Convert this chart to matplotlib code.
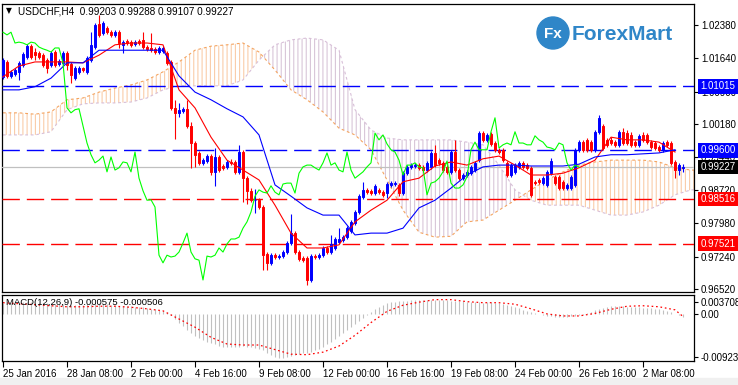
import numpy as np
import matplotlib
matplotlib.use('Agg')
import matplotlib.pyplot as plt
from matplotlib.patches import Ellipse, Rectangle

plt.rcParams['font.family'] = ['Liberation Sans', 'DejaVu Sans']
plt.rcParams['hatch.linewidth'] = 0.8
plt.rcParams['lines.scale_dashes'] = False

# USDCHF H4 candles, one per bar (25 Jan 16:00 .. 4 Mar 00:00)
opens = [1.0123, 1.0156, 1.0125, 1.0129, 1.0134, 1.0149, 1.0167, 1.0191, 1.0178, 1.0176,
         1.0171, 1.0160, 1.0149, 1.0178, 1.0151, 1.0154, 1.0176, 1.0151, 1.0120, 1.0134,
         1.0143, 1.0134, 1.0160, 1.0189, 1.0240, 1.0220, 1.0231, 1.0222, 1.0216, 1.0222,
         1.0194, 1.0203, 1.0200, 1.0196, 1.0203, 1.0205, 1.0189, 1.0187, 1.0185, 1.0178,
         1.0180, 1.0176, 1.0156, 1.0054, 1.0043, 1.0047, 1.0052, 1.0014, 0.9976, 0.9954,
         0.9932, 0.9936, 0.9947, 0.9912, 0.9945, 0.9925, 0.9923, 0.9934, 0.9934, 0.9912,
         0.9956, 0.9898, 0.9870, 0.9849, 0.9849, 0.9834, 0.9730, 0.9710, 0.9727, 0.9723,
         0.9725, 0.9734, 0.9754, 0.9776, 0.9734, 0.9721, 0.9721, 0.9672, 0.9725, 0.9723,
         0.9727, 0.9743, 0.9734, 0.9743, 0.9756, 0.9761, 0.9767, 0.9781, 0.9798, 0.9823,
         0.9856, 0.9872, 0.9870, 0.9865, 0.9872, 0.9867, 0.9865, 0.9883, 0.9885, 0.9883,
         0.9865, 0.9909, 0.9923, 0.9925, 0.9927, 0.9923, 0.9916, 0.9923, 0.9954, 0.9938,
         0.9932, 0.9923, 0.9912, 0.9956, 0.9916, 0.9898, 0.9905, 0.9909, 0.9916, 0.9938,
         0.9998, 0.9983, 0.9996, 0.9976, 0.9961, 0.9961, 0.9932, 0.9905, 0.9912, 0.9923,
         0.9932, 0.9927, 0.9921, 0.9890, 0.9894, 0.9887, 0.9883, 0.9909, 0.9901, 0.9901,
         0.9890, 0.9876, 0.9876, 0.9883, 0.9961, 0.9978, 0.9983, 0.9978, 0.9961, 1.0001,
         1.0014, 0.9983, 0.9983, 0.9978, 0.9972, 1.0001, 0.9998, 0.9994, 0.9978, 0.9972,
         0.9994, 0.9994, 0.9978, 0.9976, 0.9967, 0.9961, 0.9978, 0.9976, 0.9934, 0.9916,
         0.99203]
closes = [1.0160, 1.0125, 1.0134, 1.0138, 1.0154, 1.0174, 1.0191, 1.0167, 1.0171, 1.0167,
          1.0149, 1.0143, 1.0176, 1.0149, 1.0158, 1.0176, 1.0149, 1.0127, 1.0143, 1.0143,
          1.0138, 1.0165, 1.0194, 1.0238, 1.0216, 1.0242, 1.0222, 1.0216, 1.0222, 1.0198,
          1.0200, 1.0198, 1.0194, 1.0200, 1.0198, 1.0189, 1.0185, 1.0182, 1.0178, 1.0187,
          1.0187, 1.0154, 1.0054, 1.0043, 1.0050, 1.0052, 1.0014, 0.9976, 0.9950, 0.9932,
          0.9938, 0.9947, 0.9912, 0.9945, 0.9916, 0.9921, 0.9934, 0.9932, 0.9912, 0.9956,
          0.9898, 0.9870, 0.9849, 0.9850, 0.9834, 0.9727, 0.9710, 0.9727, 0.9723, 0.9725,
          0.9734, 0.9754, 0.9776, 0.9734, 0.9719, 0.9716, 0.9672, 0.9725, 0.9723, 0.9727,
          0.9743, 0.9734, 0.9752, 0.9763, 0.9763, 0.9767, 0.9787, 0.9801, 0.9823, 0.9858,
          0.9872, 0.9867, 0.9865, 0.9881, 0.9867, 0.9861, 0.9885, 0.9887, 0.9887, 0.9865,
          0.9909, 0.9923, 0.9927, 0.9927, 0.9921, 0.9916, 0.9932, 0.9954, 0.9927, 0.9932,
          0.9916, 0.9912, 0.9956, 0.9916, 0.9898, 0.9905, 0.9912, 0.9923, 0.9932, 0.9998,
          0.9983, 0.9994, 0.9974, 0.9961, 0.9956, 0.9938, 0.9905, 0.9927, 0.9927, 0.9932,
          0.9923, 0.9921, 0.9861, 0.9887, 0.9890, 0.9898, 0.9912, 0.9936, 0.9887, 0.9876,
          0.9876, 0.9883, 0.9901, 0.9961, 0.9978, 0.9961, 0.9961, 0.9961, 1.0001, 1.0032,
          0.9965, 0.9972, 0.9976, 0.9972, 1.0001, 0.9976, 0.9976, 0.9972, 0.9972, 0.9992,
          0.9983, 0.9978, 0.9967, 0.9965, 0.9961, 0.9976, 0.9972, 0.9932, 0.9916, 0.9927,
          0.99227]
highs = [1.0165, 1.0160, 1.0138, 1.0143, 1.0158, 1.0178, 1.0196, 1.0196, 1.0187, 1.0180,
         1.0176, 1.0165, 1.0180, 1.0182, 1.0163, 1.0180, 1.0180, 1.0156, 1.0147, 1.0147,
         1.0145, 1.0169, 1.0222, 1.0242, 1.0260, 1.0247, 1.0236, 1.0227, 1.0227, 1.0227,
         1.0205, 1.0207, 1.0205, 1.0205, 1.0207, 1.0222, 1.0194, 1.0220, 1.0189, 1.0191,
         1.0191, 1.0180, 1.0160, 1.0072, 1.0065, 1.0056, 1.0072, 1.0023, 0.9980, 0.9958,
         0.9943, 0.9952, 0.9952, 0.9965, 0.9950, 0.9929, 0.9938, 0.9941, 0.9938, 0.9972,
         0.9961, 0.9903, 0.9876, 0.9874, 0.9854, 0.9838, 0.9734, 0.9732, 0.9732, 0.9730,
         0.9739, 0.9758, 0.9818, 0.9781, 0.9739, 0.9725, 0.9725, 0.9730, 0.9730, 0.9732,
         0.9747, 0.9747, 0.9772, 0.9767, 0.9787, 0.9772, 0.9792, 0.9805, 0.9827, 0.9863,
         0.9890, 0.9876, 0.9874, 0.9885, 0.9876, 0.9872, 0.9890, 0.9892, 0.9892, 0.9887,
         0.9914, 0.9927, 0.9932, 0.9932, 0.9932, 0.9927, 0.9936, 0.9958, 0.9972, 0.9943,
         0.9936, 0.9927, 0.9961, 0.9983, 0.9921, 0.9909, 0.9916, 0.9927, 0.9936, 1.0003,
         1.0003, 0.9998, 1.0001, 0.9980, 0.9965, 0.9965, 0.9936, 0.9932, 0.9932, 0.9936,
         0.9936, 0.9932, 0.9925, 0.9894, 0.9898, 0.9903, 0.9916, 0.9943, 0.9905, 0.9905,
         0.9894, 0.9887, 0.9905, 0.9965, 0.9983, 0.9983, 0.9987, 0.9983, 1.0005, 1.0038,
         1.0018, 0.9987, 0.9989, 0.9983, 1.0005, 1.0009, 1.0005, 1.0001, 0.9983, 0.9996,
         1.0001, 0.9998, 0.9983, 0.9980, 0.9972, 0.9980, 0.9983, 0.9980, 0.9938, 0.9932,
         0.99288]
lows = [1.0118, 1.0120, 1.0120, 1.0125, 1.0116, 1.0145, 1.0163, 1.0163, 1.0160, 1.0163,
        1.0145, 1.0131, 1.0145, 1.0145, 1.0147, 1.0149, 1.0138, 1.0109, 1.0116, 1.0129,
        1.0134, 1.0129, 1.0156, 1.0185, 1.0211, 1.0216, 1.0218, 1.0211, 1.0211, 1.0187,
        1.0176, 1.0194, 1.0189, 1.0191, 1.0194, 1.0185, 1.0180, 1.0178, 1.0174, 1.0174,
        1.0176, 1.0149, 1.0050, 0.9985, 1.0034, 1.0043, 1.0009, 0.9921, 0.9923, 0.9927,
        0.9927, 0.9932, 0.9905, 0.9881, 0.9912, 0.9916, 0.9918, 0.9927, 0.9907, 0.9907,
        0.9845, 0.9841, 0.9845, 0.9821, 0.9829, 0.9694, 0.9694, 0.9705, 0.9719, 0.9719,
        0.9721, 0.9730, 0.9750, 0.9730, 0.9714, 0.9712, 0.9661, 0.9667, 0.9719, 0.9719,
        0.9723, 0.9730, 0.9730, 0.9739, 0.9752, 0.9756, 0.9763, 0.9776, 0.9794, 0.9818,
        0.9852, 0.9863, 0.9861, 0.9861, 0.9863, 0.9856, 0.9854, 0.9878, 0.9881, 0.9858,
        0.9861, 0.9905, 0.9918, 0.9921, 0.9916, 0.9912, 0.9912, 0.9918, 0.9923, 0.9927,
        0.9912, 0.9907, 0.9907, 0.9912, 0.9894, 0.9894, 0.9901, 0.9905, 0.9912, 0.9934,
        0.9978, 0.9978, 0.9969, 0.9956, 0.9952, 0.9934, 0.9901, 0.9901, 0.9907, 0.9918,
        0.9918, 0.9916, 0.9856, 0.9883, 0.9885, 0.9883, 0.9878, 0.9905, 0.9883, 0.9872,
        0.9872, 0.9872, 0.9872, 0.9878, 0.9956, 0.9956, 0.9956, 0.9956, 0.9956, 0.9996,
        0.9961, 0.9967, 0.9972, 0.9967, 0.9967, 0.9972, 0.9972, 0.9967, 0.9967, 0.9967,
        0.9978, 0.9974, 0.9963, 0.9961, 0.9956, 0.9956, 0.9967, 0.9927, 0.9898, 0.9905,
        0.99107]

# Ichimoku lines, read every 4th bar
tenkan = [1.0123, 1.0147, 1.0156, 1.0156, 1.0156, 1.0154, 1.0171, 1.0194, 1.0198, 1.0198,
          1.0194, 1.0094, 1.0054, 0.9989, 0.9938, 0.9916, 0.9894, 0.9838, 0.9776, 0.9743,
          0.9743, 0.9750, 0.9801, 0.9827, 0.9849, 0.9890, 0.9898, 0.9925, 0.9934, 0.9927,
          0.9941, 0.9947, 0.9927, 0.9905, 0.9905, 0.9909, 0.9921, 0.9938, 0.9989, 0.9983,
          0.9983, 0.9978, 0.9956]
kijun = [1.0094, 1.0094, 1.0101, 1.0120, 1.0154, 1.0154, 1.0182, 1.0182, 1.0182, 1.0182,
         1.0182, 1.0125, 1.0089, 1.0072, 1.0052, 1.0034, 0.9994, 0.9883, 0.9858, 0.9832,
         0.9816, 0.9816, 0.9772, 0.9776, 0.9776, 0.9787, 0.9832, 0.9849, 0.9876, 0.9905,
         0.9923, 0.9927, 0.9927, 0.9925, 0.9925, 0.9925, 0.9929, 0.9945, 0.9950, 0.9950,
         0.9952, 0.9954, 0.9961]
span_a = [1.0043, 1.0043, 1.0040, 1.0045, 1.0072, 1.0076, 1.0089, 1.0098, 1.0105, 1.0116,
          1.0134, 1.0156, 1.0182, 1.0191, 1.0194, 1.0198, 1.0178, 1.0138, 1.0094, 1.0072,
          1.0045, 1.0009, 0.9994, 0.9961, 0.9894, 0.9827, 0.9778, 0.9767, 0.9769, 0.9801,
          0.9805, 0.9827, 0.9849, 0.9872, 0.9894, 0.9912, 0.9927, 0.9934, 0.9938, 0.9938,
          0.9938, 0.9934, 0.9921, 0.9916, 0.9916]
span_b = [0.9994, 0.9994, 0.9994, 1.0001, 1.0050, 1.0063, 1.0065, 1.0065, 1.0067, 1.0076,
          1.0094, 1.0103, 1.0103, 1.0103, 1.0103, 1.0116, 1.0160, 1.0194, 1.0205, 1.0209,
          1.0205, 1.0182, 1.0050, 1.0005, 0.9987, 0.9983, 0.9983, 0.9983, 0.9983, 0.9978,
          0.9972, 0.9927, 0.9872, 0.9849, 0.9838, 0.9838, 0.9838, 0.9827, 0.9816, 0.9816,
          0.9823, 0.9838, 0.9861, 0.9872, 0.9872]

# MACD(12,26,9): main per bar, signal every 4th bar (units of 1e-3)
macd_main = [2.2, 2.2, 2.1, 2.2, 2.3, 2.4, 2.4, 2.3, 2.2, 2.2,
             2.1, 2.1, 2.0, 2.0, 1.9, 1.9, 1.8, 1.7, 1.7, 1.8,
             1.8, 1.9, 2.0, 2.1, 2.1, 2.0, 1.9, 1.8, 1.7, 1.6,
             1.6, 1.5, 1.5, 1.4, 1.4, 1.3, 1.2, 1.0, 0.9, 0.8,
             0.6, 0.3, -0.2, -1.0, -1.8, -2.4, -3.2, -3.8, -4.3, -4.7,
             -5.1, -5.5, -5.8, -6.0, -6.2, -6.4, -6.5, -6.5, -6.4, -6.4,
             -6.3, -6.4, -6.5, -6.6, -6.8, -7.1, -7.6, -8.1, -8.4, -8.6,
             -8.6, -8.4, -8.2, -8.0, -7.8, -7.7, -7.6, -7.4, -7.1, -6.8,
             -6.4, -6.0, -5.6, -5.0, -4.4, -3.8, -3.2, -2.6, -2.0, -1.4,
             -0.8, -0.2, 0.4, 1.0, 1.4, 1.8, 2.1, 2.3, 2.4, 2.5,
             2.6, 2.6, 2.7, 2.7, 2.8, 2.8, 2.8, 2.8, 2.8, 2.7,
             2.8, 2.7, 2.6, 2.6, 2.5, 2.5, 2.4, 2.4, 2.3, 2.3,
             2.2, 2.3, 2.3, 2.2, 2.1, 1.9, 1.7, 1.5, 1.3, 1.1,
             0.8, 0.6, 0.4, 0.2, 0.0, -0.2, -0.4, -0.5, -0.6, -0.6,
             -0.6, -0.6, -0.5, -0.4, -0.3, -0.2, 0.1, 0.4, 0.7, 1.0,
             1.2, 1.4, 1.5, 1.5, 1.5, 1.5, 1.4, 1.4, 1.3, 1.3,
             1.2, 1.1, 1.1, 1.0, 0.9, 0.7, 0.5, 0.3, 0.0, -0.3,
             -0.575]
macd_signal = [2.2, 2.0, 1.8, 1.6, 1.4, 1.4, 1.5, 1.5, 1.3, 1.0,
               0.6, -1.0, -2.6, -4.6, -5.9, -6.1, -6.1, -7.0, -7.9, -8.0,
               -7.5, -6.3, -4.2, -1.7, 0.5, 1.7, 2.3, 2.8, 2.8, 2.4,
               2.2, 2.2, 1.9, 1.0, 0.0, -0.4, -0.4, 0.1, 0.9, 1.5,
               1.6, 1.4, 0.8, -0.506]

price_ticks = [1.02380, 1.01640, 1.00900, 1.00180, 0.99440, 0.98720, 0.97980, 0.97240, 0.96520]
date_labels = ['25 Jan 2016', '28 Jan 08:00', '2 Feb 00:00', '4 Feb 16:00', '9 Feb 08:00',
               '12 Feb 00:00', '16 Feb 16:00', '19 Feb 08:00', '24 Feb 00:00',
               '26 Feb 16:00', '2 Mar 08:00']
levels = [(1.01015, '#0000FF'), (0.99600, '#0000FF'),
          (0.98516, '#FF0000'), (0.97521, '#FF0000')]
last_price = 0.99227

W, H = 738, 385
fig = plt.figure(figsize=(W / 100, H / 100), dpi=100)
fig.patch.set_facecolor('white')
ax = fig.add_axes([2 / W, 1 - 292 / H, 692 / W, 288 / H])
ax2 = fig.add_axes([2 / W, 1 - 361 / H, 692 / W, 66 / H], sharex=ax)

o = np.array(opens)
c = np.array(closes)
h = np.array(highs)
l = np.array(lows)
x = np.arange(len(c))
col = np.where(c >= o, '#0000FF', '#FF0000')

# cloud (dotted hatch in the colour of the upper span)
xc = np.arange(len(span_a)) * 4
sa = np.array(span_a)
sb = np.array(span_b)
ax.fill_between(xc, sa, sb, where=sa >= sb, interpolate=True, facecolor='none',
                edgecolor=(0.96, 0.64, 0.38, 0.55), hatch='||||', linewidth=0, zorder=1)
ax.fill_between(xc, sa, sb, where=sa < sb, interpolate=True, facecolor='none',
                edgecolor=(0.80, 0.70, 0.80, 0.75), hatch='||||', linewidth=0, zorder=1)
ax.plot(xc, sa, color='#F4A460', lw=0.8, ls=(0, (2, 2)), zorder=2)
ax.plot(xc, sb, color='#D8BFD8', lw=0.8, ls=(0, (2, 2)), zorder=2)

# levels
for lv, cl in levels:
    ax.axhline(lv, color=cl, lw=1.0, ls=(0, (12.5, 5)), zorder=3)
ax.axhline(last_price, color='#C0C0C0', lw=0.9, zorder=3)

# candles
ax.vlines(x, l, h, colors=col, lw=0.8, zorder=4)
ax.bar(x, np.abs(c - o), bottom=np.minimum(o, c), width=0.5, color=col,
       edgecolor=col, linewidth=0.7, zorder=5)

# ichimoku lines
x4 = np.arange(len(tenkan)) * 4
ax.plot(x4, tenkan, color='#FF0000', lw=0.8, zorder=6)
ax.plot(x4, kijun, color='#0000FF', lw=0.8, zorder=6)
ax.plot(x[:len(c) - 26], c[26:], color='#00FF00', lw=0.8, zorder=6)

ax.set_xlim(-0.25, 172.75)
ax.set_ylim(0.96453, 1.02846)
ax.yaxis.tick_right()
ax.set_yticks(price_ticks)
ax.set_yticklabels(['%.5f' % v for v in price_ticks])
ax.tick_params(axis='y', direction='out', length=3, width=0.8, pad=2, labelsize=7)
ax.tick_params(axis='x', bottom=False, labelbottom=False)
for s in ax.spines.values():
    s.set_linewidth(0.9)

# level labels on the price scale
tr = ax.get_yaxis_transform()
for lv, cl in levels:
    ax.text(1.009, lv, '%.5f' % lv, transform=tr, color='white', fontsize=7,
            va='center', ha='left', clip_on=False, zorder=10,
            bbox=dict(boxstyle='square,pad=0.25', fc=cl, ec='none'))
ax.text(1.009, last_price, '%.5f' % last_price, transform=tr, color='white', fontsize=7,
        va='center', ha='left', clip_on=False, zorder=10,
        bbox=dict(boxstyle='square,pad=0.25', fc='black', ec='none'))

# MACD
mm = np.array(macd_main) * 1e-3
ax2.vlines(x, 0, mm, colors='#C0C0C0', lw=0.8)
xs = np.append(np.arange(len(macd_signal) - 1) * 4, len(c) - 1)
ax2.plot(xs, np.array(macd_signal) * 1e-3, color='#FF0000', lw=0.9, ls=(0, (1.2, 2.0)))
ax2.set_ylim(-0.009237, 0.003708)
ax2.yaxis.tick_right()
ax2.set_yticks([0.00240, 0.0, -0.00846])
ax2.set_yticklabels(['0.003708', '0.00', '-0.009237'])
ax2.tick_params(axis='y', direction='out', length=3, width=0.8, pad=2, labelsize=7)
ax2.set_xticks(np.arange(len(date_labels)) * 16)
ax2.set_xticklabels(date_labels, ha='left')
ax2.tick_params(axis='x', direction='out', length=4, width=0.8, pad=1.5, labelsize=7)
for s in ax2.spines.values():
    s.set_linewidth(0.9)
ax2.text(0.006, 0.88, 'MACD(12,26,9) -0.000575 -0.000506', transform=ax2.transAxes,
         fontsize=6.8, va='center', ha='left')

# header
fig.text(6 / W, 1 - 11 / H, '\u25bc', fontsize=5.5, va='center', ha='left',
         family='DejaVu Sans')
fig.text(18 / W, 1 - 11 / H, 'USDCHF,H4  0.99203 0.99288 0.99107 0.99227',
         fontsize=7.2, va='center', ha='left')

# watermark logo
fig.add_artist(Ellipse((553 / W, 1 - 33 / H), 32 / W, 32 / H, color='#2F86C8', zorder=8))
fig.text(553 / W, 1 - 34 / H, 'Fx', color='white', fontsize=11, fontweight='bold',
         va='center', ha='center', zorder=9)
fig.text(572 / W, 1 - 34 / H, 'ForexMart', color='#2F86C8', fontsize=15,
         fontweight='bold', va='center', ha='left', zorder=9)

fig.add_artist(Rectangle((0, 0), 1, 7 / H, color='#F0F0F0', zorder=0))

fig.savefig('out.png', dpi=100)
